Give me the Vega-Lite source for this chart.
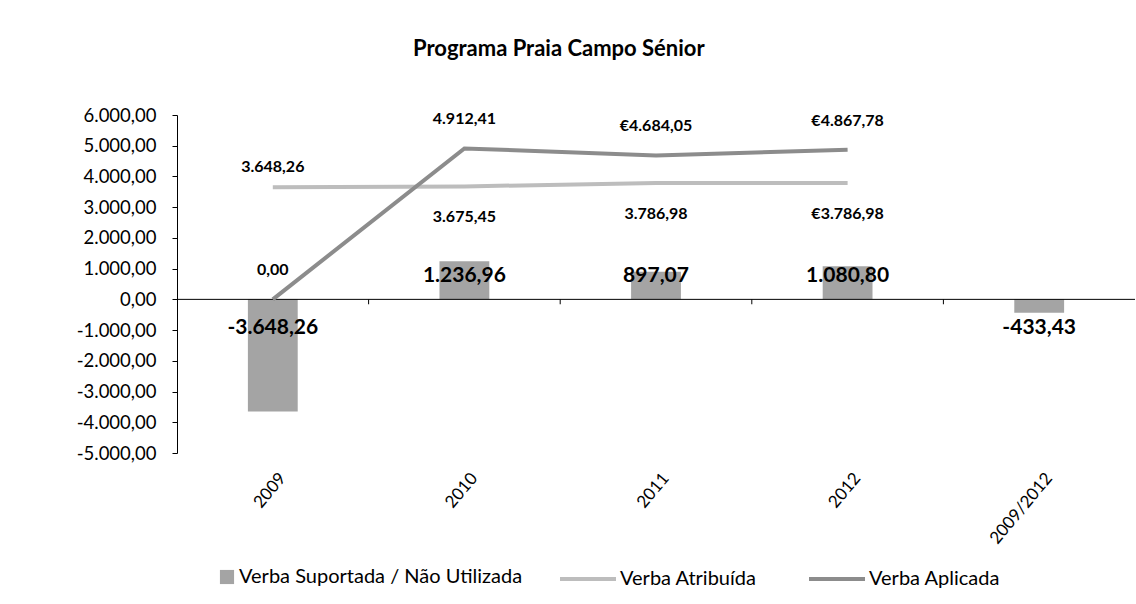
{
  "$schema": "https://vega.github.io/schema/vega-lite/v6.json",
  "width": 958,
  "height": 338,
  "autosize": "none",
  "padding": {"left": 177, "top": 115, "right": 1, "bottom": 151},
  "background": "white",
  "title": {"text": "Programa Praia Campo Sénior", "anchor": "start", "frame": "group", "dx": 236, "offset": 45, "font": "Lato", "fontSize": 22, "fontWeight": "bold", "color": "black"},
  "config": {
    "locale": {"number": {"decimal": ",", "thousands": ".", "grouping": [3], "currency": ["€", ""], "minus": "-"}},
    "numberFormat": ",.2f",
    "view": {"stroke": null},
    "font": "Lato",
    "axis": {"labelFont": "Lato", "labelColor": "black", "grid": false},
    "axisY": {"tickCount": 11, "labelFontSize": 18.5, "labelPadding": 16, "labelOverlap": false, "tickSize": 5, "tickColor": "black", "domainColor": "black"},
    "axisX": {"labelAngle": -50, "labelAlign": "right", "labelBaseline": "middle", "labelFontSize": 17, "labelPadding": 22, "labelOffset": 10, "ticks": false, "domain": false}
  },
  "datasets": {
    "barras": [
      {"ano": "2009", "valor": -3648.26},
      {"ano": "2010", "valor": 1236.96},
      {"ano": "2011", "valor": 897.07},
      {"ano": "2012", "valor": 1080.80},
      {"ano": "2009/2012", "valor": -433.43}
    ],
    "linhas": [
      {"ano": "2009", "serie": "Verba Atribuída", "valor": 3648.26, "euro": false},
      {"ano": "2010", "serie": "Verba Atribuída", "valor": 3675.45, "euro": false},
      {"ano": "2011", "serie": "Verba Atribuída", "valor": 3786.98, "euro": false},
      {"ano": "2012", "serie": "Verba Atribuída", "valor": 3786.98, "euro": true},
      {"ano": "2009", "serie": "Verba Aplicada", "valor": 0, "euro": false},
      {"ano": "2010", "serie": "Verba Aplicada", "valor": 4912.41, "euro": false},
      {"ano": "2011", "serie": "Verba Aplicada", "valor": 4684.05, "euro": true},
      {"ano": "2012", "serie": "Verba Aplicada", "valor": 4867.78, "euro": true}
    ]
  },
  "layer": [
    {
      "data": {"name": "barras"},
      "mark": {"type": "bar", "width": {"band": 0.26}},
      "encoding": {
        "x": {"field": "ano", "type": "nominal", "sort": null, "title": null,
          "scale": {"domain": ["2009", "2010", "2011", "2012", "2009/2012"], "paddingInner": 0, "paddingOuter": 0}},
        "y": {"field": "valor", "type": "quantitative", "title": null,
          "scale": {"domain": [-5000, 6000], "nice": false}},
        "fill": {"datum": "Verba Suportada / Não Utilizada", "type": "nominal",
          "scale": {"range": ["#a4a4a4"]},
          "legend": {"title": null, "orient": "none", "legendX": 40, "legendY": 452, "symbolType": "square", "symbolSize": 200, "labelFont": "Lato", "labelFontSize": 20, "labelColor": "black", "labelOffset": 2, "labelLimit": 500}}
      }
    },
    {
      "data": {"values": [{"zero": 0}]},
      "mark": {"type": "rule", "color": "black", "strokeWidth": 1},
      "encoding": {
        "y": {"field": "zero", "type": "quantitative", "title": null}
      }
    },
    {
      "data": {"name": "barras"},
      "transform": [{"filter": "datum.ano != '2009'"}],
      "mark": {"type": "rule", "color": "black", "strokeWidth": 1},
      "encoding": {
        "x": {"field": "ano", "type": "nominal", "sort": null, "title": null, "bandPosition": 0},
        "y": {"datum": 0, "type": "quantitative", "title": null},
        "y2": {"datum": -160}
      }
    },
    {
      "data": {"name": "linhas"},
      "mark": {"type": "line", "strokeWidth": 4},
      "encoding": {
        "x": {"field": "ano", "type": "nominal", "sort": null, "title": null},
        "y": {"field": "valor", "type": "quantitative", "title": null},
        "stroke": {"field": "serie", "type": "nominal",
          "scale": {"domain": ["Verba Atribuída", "Verba Aplicada"], "range": ["#bdbdbd", "#8c8c8c"]},
          "legend": {"title": null, "orient": "none", "legendX": 381, "legendY": 434, "direction": "horizontal", "symbolType": "stroke", "symbolSize": 3136, "symbolStrokeWidth": 4, "labelFont": "Lato", "labelFontSize": 20, "labelColor": "black", "labelOffset": 2, "labelLimit": 500, "columnPadding": 44}}
      }
    },
    {
      "data": {"name": "barras"},
      "transform": [{"filter": "datum.valor > 0"}],
      "mark": {"type": "text", "font": "Lato", "fontSize": 21, "fontWeight": "bold", "dy": -23, "color": "black"},
      "encoding": {
        "x": {"field": "ano", "type": "nominal", "sort": null, "title": null},
        "y": {"datum": 0, "type": "quantitative", "title": null},
        "text": {"field": "valor", "type": "quantitative", "format": ",.2f"}
      }
    },
    {
      "data": {"name": "barras"},
      "transform": [{"filter": "datum.valor < 0"}],
      "mark": {"type": "text", "font": "Lato", "fontSize": 21, "fontWeight": "bold", "dy": 29, "color": "black"},
      "encoding": {
        "x": {"field": "ano", "type": "nominal", "sort": null, "title": null},
        "y": {"datum": 0, "type": "quantitative", "title": null},
        "text": {"field": "valor", "type": "quantitative", "format": ",.2f"}
      }
    },
    {
      "data": {"name": "linhas"},
      "transform": [
        {"filter": "datum.serie == 'Verba Aplicada'"},
        {"calculate": "(datum.euro ? '€' : '') + format(datum.valor, ',.2f')", "as": "rotulo"}
      ],
      "mark": {"type": "text", "font": "Lato", "fontSize": 16, "fontWeight": "bold", "dy": -29, "color": "black"},
      "encoding": {
        "x": {"field": "ano", "type": "nominal", "sort": null, "title": null},
        "y": {"field": "valor", "type": "quantitative", "title": null},
        "text": {"field": "rotulo", "type": "nominal"}
      }
    },
    {
      "data": {"name": "linhas"},
      "transform": [
        {"filter": "datum.serie == 'Verba Atribuída' && datum.ano == '2009'"},
        {"calculate": "(datum.euro ? '€' : '') + format(datum.valor, ',.2f')", "as": "rotulo"}
      ],
      "mark": {"type": "text", "font": "Lato", "fontSize": 16, "fontWeight": "bold", "dy": -20, "color": "black"},
      "encoding": {
        "x": {"field": "ano", "type": "nominal", "sort": null, "title": null},
        "y": {"field": "valor", "type": "quantitative", "title": null},
        "text": {"field": "rotulo", "type": "nominal"}
      }
    },
    {
      "data": {"name": "linhas"},
      "transform": [
        {"filter": "datum.serie == 'Verba Atribuída' && datum.ano != '2009'"},
        {"calculate": "(datum.euro ? '€' : '') + format(datum.valor, ',.2f')", "as": "rotulo"}
      ],
      "mark": {"type": "text", "font": "Lato", "fontSize": 16, "fontWeight": "bold", "dy": 31, "color": "black"},
      "encoding": {
        "x": {"field": "ano", "type": "nominal", "sort": null, "title": null},
        "y": {"field": "valor", "type": "quantitative", "title": null},
        "text": {"field": "rotulo", "type": "nominal"}
      }
    }
  ]
}
